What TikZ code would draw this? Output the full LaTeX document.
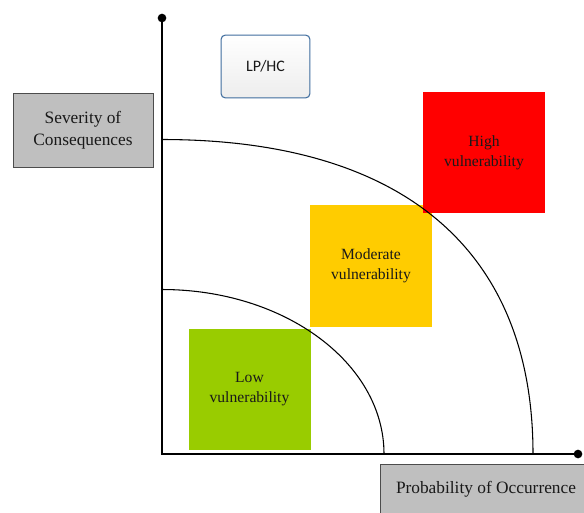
\documentclass[tikz,border=0pt]{standalone}
\usepackage{fontspec}
\setmainfont{Liberation Serif}
\newfontfamily\calib{Carlito}
\begin{document}
\begin{tikzpicture}[x=0.75pt,y=-0.75pt,
  zone/.style={draw=none,minimum width=91.5pt,minimum height=91pt,inner sep=0pt,
    align=center,font=\fontsize{11.7}{15}\selectfont,text=black!90},
  axislabel/.style={draw=black!70,line width=0.6pt,fill=black!25,inner sep=0pt,
    align=center,font=\fontsize{13}{16.5}\selectfont,text=black!90},
  axisline/.style={line width=1.6pt,black},
  ring/.style={line width=0.8pt,black},
  enddot/.style={circle,fill=black,inner sep=0pt,minimum size=6.5pt}]
\useasboundingbox (0,0) rectangle (584,512);
\definecolor{lowgreen}{HTML}{99CC00}
\definecolor{modyellow}{HTML}{FFCC00}
\definecolor{boxblue}{HTML}{3F6D9E}

% coloured vulnerability zones
\node[zone,fill=lowgreen] (low) at (249.5,389.5) {Low\\vulnerability};
\node[zone,fill=modyellow] (mod) at (371,266) {Moderate\\vulnerability};
\node[zone,fill=red] (high) at (484,152.5) {High\\vulnerability};

% boundaries around the origin
\coordinate (o) at (162,454);
\draw[ring] (162,289.5) arc[start angle=-90,end angle=0,x radius=222,y radius=164.5];
\draw[ring] (162,139.5) .. controls (403,139.5) and (533,250) .. (533,454);

% axes with end dots
\node[enddot] (ytop) at (162,18) {};
\node[enddot] (xend) at (578,454) {};
\draw[axisline] (ytop.center) -- (o) -- (xend.center);

% axis labels
\node[axislabel,minimum width=105pt,minimum height=55.5pt] (sev) at (83,130) {Severity of\\Consequences};
\node[axislabel,anchor=north west,minimum width=165pt,minimum height=45pt] (prob) at (379.5,463.5) {};
\node[font=\fontsize{13}{16.5}\selectfont,text=black!90,anchor=center] (probtxt) at (486,489.5) {Probability of Occurrence};

% LP/HC tag
\node[draw=boxblue,line width=0.8pt,rounded corners=3pt,top color=white,bottom color=black!7,
  minimum width=66.5pt,minimum height=47pt,font=\calib\fontsize{12}{14}\selectfont,text=black!90]
  (lphc) at (265.5,66.5) {LP/HC};
\end{tikzpicture}
\end{document}
